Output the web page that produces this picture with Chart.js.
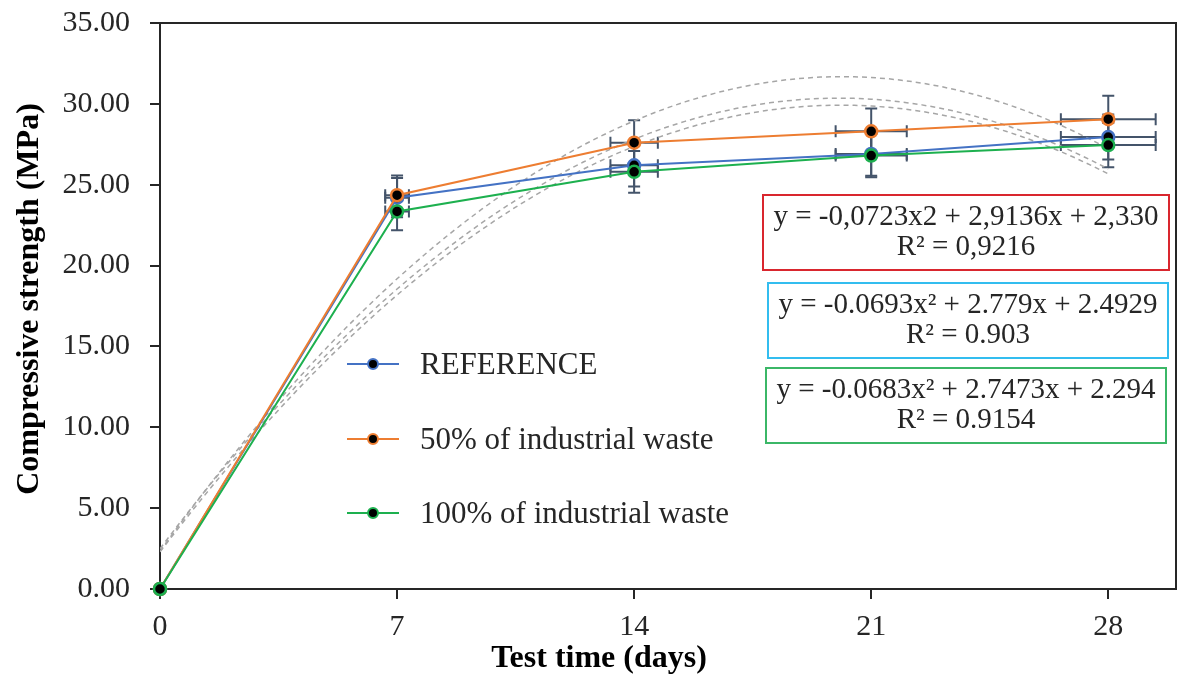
<!DOCTYPE html>
<html>
<head>
<meta charset="utf-8">
<script src="https://cdn.jsdelivr.net/npm/chart.js@4"></script>
<style>
  html, body { margin: 0; padding: 0; background: #fff; }
  canvas { display: block; }
</style>
</head>
<body>
<canvas id="chart" width="1177" height="675"></canvas>
<script>
// test ages (days) and mean compressive strength (MPa)
const days = [0, 7, 14, 21, 28];
const refValues = [0, 24.2, 26.2, 26.9, 27.95];
const waste50Values = [0, 24.35, 27.6, 28.3, 29.05];
const waste100Values = [0, 23.35, 25.8, 26.8, 27.45];

const seriesNames = ['REFERENCE', '50% of industrial waste', '100% of industrial waste'];
const xTickValues = [0, 7, 14, 21, 28];

// polynomial trendlines as printed on the chart: [a, b, c] for y = a*x^2 + b*x + c
const refTrend = [-0.0693, 2.779, 2.4929];
const waste50Trend = [-0.0723, 2.9136, 2.330];
const waste100Trend = [-0.0683, 2.7473, 2.294];

// error bars: percentage, both directions
const errorPct = 5;

const equationLines = [
  ['y = -0,0723x2 + 2,9136x + 2,330', 'R² = 0,9216'],
  ['y = -0.0693x² + 2.779x + 2.4929', 'R² = 0.903'],
  ['y = -0.0683x² + 2.7473x + 2.294', 'R² = 0.9154']
];

const colors = {
  ref: '#4472C4',
  waste50: '#ED7D31',
  waste100: '#1DB04F',
  trend: '#A6A6A6',
  errBar: '#44546A',
  axis: '#262626',
  text: '#262626'
};

const SERIF = '"Liberation Serif", "Times New Roman", serif';

function toPoints(xs, ys) {
  return xs.map((x, i) => ({ x: x, y: ys[i] }));
}

function trendPoints(coef) {
  const pts = [];
  for (let x = 0; x <= 28; x += 0.5) {
    pts.push({ x: x, y: coef[0] * x * x + coef[1] * x + coef[2] });
  }
  return pts;
}

function seriesDataset(label, values, color, order) {
  return {
    label: label,
    data: toPoints(days, values),
    borderColor: color,
    backgroundColor: '#000',
    pointBackgroundColor: '#000',
    pointBorderColor: color,
    pointBorderWidth: 2.5,
    pointRadius: 6,
    borderWidth: 2,
    tension: 0,
    order: order,
    clip: 10,
    errorBars: true
  };
}

function trendDataset(coef) {
  return {
    data: trendPoints(coef),
    borderColor: colors.trend,
    borderWidth: 1.5,
    borderDash: [5, 4],
    pointRadius: 0,
    tension: 0,
    order: 10
  };
}

const errorBarPlugin = {
  id: 'errorBars',
  beforeDatasetsDraw(chart) {
    const ctx = chart.ctx;
    const xs = chart.scales.x, ys = chart.scales.y;
    ctx.save();
    ctx.strokeStyle = colors.errBar;
    ctx.lineWidth = 2;
    chart.data.datasets.forEach(ds => {
      if (!ds.errorBars) return;
      ds.data.forEach(p => {
        if (p.x === 0 && p.y === 0) return;
        const px = xs.getPixelForValue(p.x), py = ys.getPixelForValue(p.y);
        const dx = p.x * errorPct / 100, dy = p.y * errorPct / 100;
        const y1 = ys.getPixelForValue(p.y + dy), y2 = ys.getPixelForValue(p.y - dy);
        const x1 = xs.getPixelForValue(p.x - dx), x2 = xs.getPixelForValue(p.x + dx);
        ctx.beginPath();
        ctx.moveTo(px, y1); ctx.lineTo(px, y2);
        ctx.moveTo(px - 6, y1); ctx.lineTo(px + 6, y1);
        ctx.moveTo(px - 6, y2); ctx.lineTo(px + 6, y2);
        ctx.moveTo(x1, py); ctx.lineTo(x2, py);
        ctx.moveTo(x1, py - 6); ctx.lineTo(x1, py + 6);
        ctx.moveTo(x2, py - 6); ctx.lineTo(x2, py + 6);
        ctx.stroke();
      });
    });
    ctx.restore();
  }
};

const decorPlugin = {
  id: 'decor',
  afterDraw(chart) {
    const ctx = chart.ctx;
    const area = chart.chartArea;
    ctx.save();

    // frame top and right
    ctx.strokeStyle = colors.axis;
    ctx.lineWidth = 2;
    ctx.beginPath();
    ctx.moveTo(area.left, area.top);
    ctx.lineTo(area.right, area.top);
    ctx.lineTo(area.right, area.bottom);
    ctx.stroke();

    // axis titles
    ctx.fillStyle = '#000';
    ctx.font = 'bold 32px ' + SERIF;
    ctx.textAlign = 'center';
    ctx.textBaseline = 'alphabetic';
    ctx.fillText('Test time (days)', 599, 667);
    ctx.save();
    ctx.translate(38, 299);
    ctx.rotate(-Math.PI / 2);
    ctx.fillText('Compressive strength (MPa)', 0, 0);
    ctx.restore();

    // legend inside the plot
    const legendColors = [colors.ref, colors.waste50, colors.waste100];
    const rowY = [364, 439, 513];
    ctx.font = '31px ' + SERIF;
    ctx.textAlign = 'left';
    ctx.textBaseline = 'middle';
    seriesNames.forEach((name, i) => {
      const y = rowY[i];
      ctx.strokeStyle = legendColors[i];
      ctx.lineWidth = 2;
      ctx.beginPath();
      ctx.moveTo(347, y); ctx.lineTo(399, y);
      ctx.stroke();
      ctx.beginPath();
      ctx.arc(373, y, 5, 0, Math.PI * 2);
      ctx.fillStyle = '#000';
      ctx.fill();
      ctx.lineWidth = 2;
      ctx.stroke();
      ctx.fillStyle = colors.text;
      ctx.fillText(name, 420, y + 2);
    });

    // trendline equation boxes
    const boxes = [
      { l: 763, t: 195, r: 1169, b: 270, color: '#D9262E' },
      { l: 768, t: 283, r: 1168, b: 358, color: '#33BDEF' },
      { l: 766, t: 368, r: 1166, b: 443, color: '#3BB767' }
    ];
    ctx.font = '29px ' + SERIF;
    ctx.textAlign = 'center';
    ctx.textBaseline = 'middle';
    boxes.forEach((bx, i) => {
      ctx.fillStyle = '#fff';
      ctx.fillRect(bx.l, bx.t, bx.r - bx.l, bx.b - bx.t);
      ctx.strokeStyle = bx.color;
      ctx.lineWidth = 2;
      ctx.strokeRect(bx.l, bx.t, bx.r - bx.l, bx.b - bx.t);
      const cx = (bx.l + bx.r) / 2;
      ctx.fillStyle = colors.text;
      ctx.fillText(equationLines[i][0], cx, bx.t + 22);
      ctx.fillText(equationLines[i][1], cx, bx.t + 52);
    });

    ctx.restore();
  }
};

new Chart(document.getElementById('chart'), {
  type: 'line',
  data: {
    datasets: [
      seriesDataset(seriesNames[0], refValues, colors.ref, 3),
      seriesDataset(seriesNames[1], waste50Values, colors.waste50, 2),
      seriesDataset(seriesNames[2], waste100Values, colors.waste100, 1),
      trendDataset(refTrend),
      trendDataset(waste50Trend),
      trendDataset(waste100Trend)
    ]
  },
  options: {
    responsive: false,
    animation: false,
    devicePixelRatio: 1,
    layout: { autoPadding: false, padding: { top: 23, right: 1, left: 0, bottom: 0 } },
    plugins: {
      legend: { display: false },
      tooltip: { enabled: false }
    },
    scales: {
      x: {
        type: 'linear',
        min: 0,
        max: 30,
        afterBuildTicks: scale => {
          scale.ticks = xTickValues.map(v => ({ value: v }));
        },
        afterFit: scale => {
          scale.height = 86;
          scale.paddingLeft = 0;
          scale.paddingRight = 0;
        },
        ticks: {
          font: { family: SERIF, size: 30 },
          color: colors.text,
          padding: 10,
          maxRotation: 0,
          autoSkip: false
        },
        grid: {
          drawOnChartArea: false,
          drawTicks: true,
          tickLength: 10,
          color: colors.axis,
          lineWidth: 2
        },
        border: { color: colors.axis, width: 2 }
      },
      y: {
        min: 0,
        max: 35,
        afterFit: scale => {
          scale.width = 160;
          scale.paddingTop = 0;
          scale.paddingBottom = 0;
        },
        ticks: {
          stepSize: 5,
          font: { family: SERIF, size: 30 },
          color: colors.text,
          padding: 20,
          callback: v => v.toFixed(2)
        },
        grid: {
          drawOnChartArea: false,
          drawTicks: true,
          tickLength: 10,
          color: colors.axis,
          lineWidth: 2
        },
        border: { color: colors.axis, width: 2 }
      }
    }
  },
  plugins: [errorBarPlugin, decorPlugin]
});
</script>
</body>
</html>
